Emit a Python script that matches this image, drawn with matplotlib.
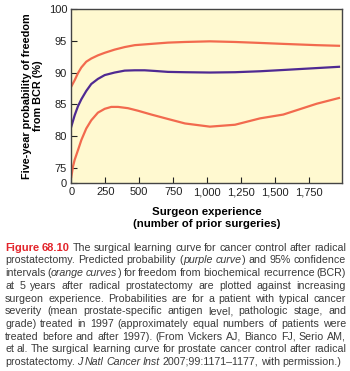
import matplotlib
matplotlib.use("Agg")
import matplotlib.pyplot as plt
from matplotlib.transforms import IdentityTransform

plt.rcParams['font.family'] = ['Liberation Sans', 'DejaVu Sans']

# values (surgeon experience vs 5-yr freedom from BCR %)
upper_x = [0, 25, 49, 74, 110, 147, 196, 246, 319, 393, 467, 589, 712, 837,
           1020, 1205, 1389, 1560, 1806, 1970]
upper_y = [87.8, 88.8, 89.9, 90.8, 91.7, 92.2, 92.7, 93.1, 93.6, 94.0, 94.3,
           94.5, 94.7, 94.8, 94.9, 94.8, 94.65, 94.5, 94.3, 94.2]

mid_x = [0, 25, 49, 74, 110, 147, 196, 246, 319, 393, 467, 540, 614, 712,
         837, 1020, 1205, 1389, 1560, 1806, 1970]
mid_y = [81.5, 83.3, 84.7, 85.8, 87.1, 88.2, 89.0, 89.6, 90.0, 90.3, 90.35,
         90.35, 90.25, 90.1, 90.05, 90.0, 90.05, 90.2, 90.4, 90.7, 90.9]

lower_x = [0, 12, 25, 49, 74, 110, 147, 196, 246, 294, 344, 417, 491, 589,
           712, 837, 1020, 1205, 1389, 1560, 1806, 1970]
lower_y = [73.6, 75.2, 76.3, 77.8, 79.4, 81.2, 82.5, 83.7, 84.3, 84.6, 84.6,
           84.4, 84.0, 83.4, 82.7, 82.0, 81.5, 81.8, 82.8, 83.4, 85.1, 86.0]

xticks = [0, 250, 500, 750, 1000, 1250, 1500, 1750]
xtick_labels = ["0", "250", "500", "750", "1,000", "1,250", "1,500", "1,750"]
yticks = [72.6, 75, 80, 85, 90, 95, 100]
ytick_labels = ["0", "75", "80", "85", "90", "95", "100"]

caption = [
    [("Figure 68.10", "red"), (" The surgical learning curve for cancer control after radical", "n")],
    [("prostatectomy. Predicted probability (", "n"), ("purple curve", "i"), (") and 95% confidence", "n")],
    [("intervals (", "n"), ("orange curves", "i"), (") for freedom from biochemical recurrence (BCR)", "n")],
    [("at 5 years after radical prostatectomy are plotted against increasing", "n")],
    [("surgeon experience. Probabilities are for a patient with typical cancer", "n")],
    [("severity (mean prostate-specific antigen level, pathologic stage, and", "n")],
    [("grade) treated in 1997 (approximately equal numbers of patients were", "n")],
    [("treated before and after 1997). (From Vickers AJ, Bianco FJ, Serio AM,", "n")],
    [("et al. The surgical learning curve for prostate cancer control after radical", "n")],
    [("prostatectomy. ", "n"), ("J Natl Cancer Inst", "i"), (" 2007;99:1171\u20131177, with permission.)", "n")],
]

ORANGE = "#F26A4E"
PURPLE = "#4F2A92"
BG = "#FFF9D0"

fig = plt.figure(figsize=(3.5, 3.71), dpi=100)
ax = fig.add_axes([0.2037, 0.5059, 0.7726, 0.4702])
ax.set_facecolor(BG)

ax.plot(upper_x, upper_y, color=ORANGE, lw=1.6)
ax.plot(lower_x, lower_y, color=ORANGE, lw=1.6)
ax.plot(mid_x, mid_y, color=PURPLE, lw=1.6)

ax.set_xlim(0, 1990)
ax.set_ylim(72.6, 100)
ax.set_xticks(xticks)
ax.set_xticklabels(xtick_labels)
ax.set_yticks(yticks)
ax.set_yticklabels(ytick_labels)
ax.tick_params(direction='in', length=4, width=0.8, labelsize=8, pad=3,
               colors='#222222')
for s in ax.spines.values():
    s.set_color('#444444')
    s.set_linewidth(1.0)

ax.set_ylabel("Five-year probability of freedom\nfrom BCR (%)", fontsize=7.8,
              fontweight='bold', linespacing=1.15, labelpad=4)
ax.set_xlabel("Surgeon experience\n(number of prior surgeries)", fontsize=8.2,
              fontweight='bold', linespacing=1.2, labelpad=7)

# --- justified caption ---
renderer = fig.canvas.get_renderer()
styles = {
    "n": dict(color="#3a3a3a", fontsize=7.7),
    "i": dict(color="#3a3a3a", fontsize=7.7, style="italic"),
    "red": dict(color="#E3242B", fontsize=8.0, fontweight="bold"),
}
left, right = 5.0, 346.0
top_base, step = 371 - 250.7, 12.7


def split_words(line):
    words, cur = [], []
    for text, st in line:
        for k, p in enumerate(text.split(" ")):
            if k > 0 and cur:
                words.append(cur)
                cur = []
            if p:
                cur.append((p, st))
    if cur:
        words.append(cur)
    return words


for i, line in enumerate(caption):
    y = top_base - i * step
    words = split_words(line)
    placed = []
    total = 0.0
    for w in words:
        pieces = []
        for txt, st in w:
            t = fig.text(0, y, txt, transform=IdentityTransform(), va='baseline',
                         ha='left', **styles[st])
            wd = t.get_window_extent(renderer).width
            pieces.append((t, wd))
            total += wd
        placed.append(pieces)
    if i < len(caption) - 1:
        gap = max((right - left - total) / (len(words) - 1), 1.6)
    else:
        gap = 2.4
    x = left
    for pieces in placed:
        for t, wd in pieces:
            t.set_x(x)
            x += wd
        x += gap

fig.savefig("out.png", dpi=100)
